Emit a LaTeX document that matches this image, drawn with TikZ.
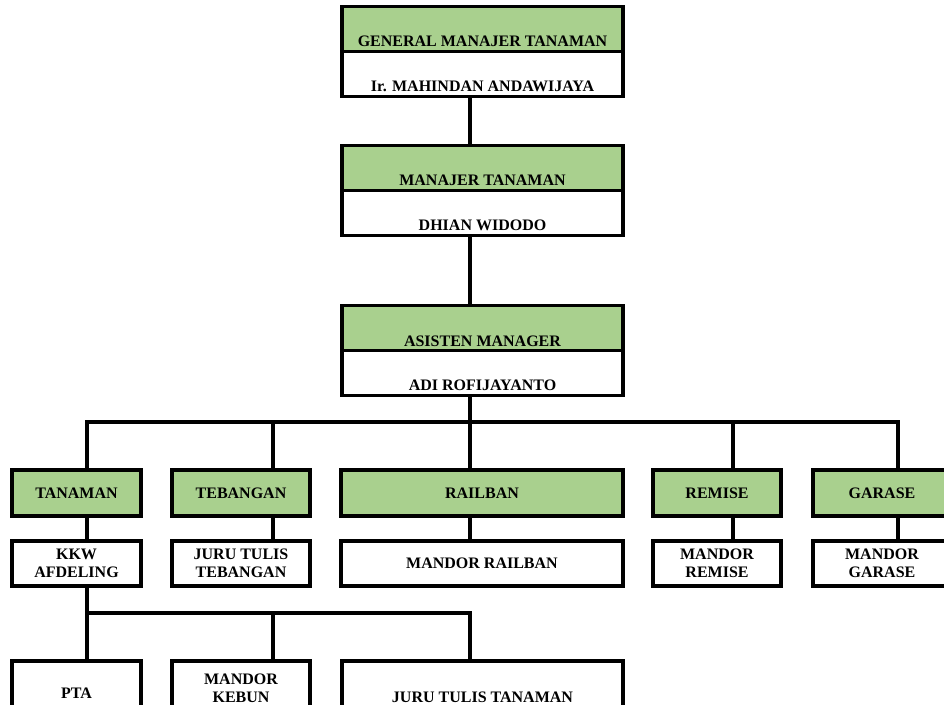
\documentclass[tikz,border=0pt]{standalone}
\usepackage{fontspec}
\setmainfont{Liberation Serif}
\usepackage{tikz}

\definecolor{daun}{RGB}{169,208,142}

\begin{document}
\begin{tikzpicture}[x = 0.75pt, y = -0.75pt, line width = 2.3pt,
                        font = \fontsize{12}{13.5}\selectfont\bfseries,
                        filled/.style = {rectangle, draw, fill = daun, minimum height = 34.5pt, inner sep = 0pt},
                        blank/.style = {rectangle, draw, fill = white, minimum height = 33.75pt, inner sep = 0pt},
                        head/.style = {filled, text height = 30pt, text depth = 3.75pt},
                        holder/.style = {blank, text height = 29.6pt, text depth = 3.4pt}]
      \clip (0, 0) rectangle (944, 705);
      % drop lines and bus levels
      \coordinate (c1) at (87, 0);
      \coordinate (c2) at (273, 0);
      \coordinate (c3) at (470, 0);
      \coordinate (c4) at (733, 0);
      \coordinate (c5) at (898, 0);
      \coordinate (bus) at (0, 422);
      \coordinate (sub) at (0, 613);
      % top three
      \node [head, minimum width = 210.75pt] (h1) at (482.5, 29.5){GENERAL MANAJER TANAMAN};
      \node [holder, minimum width = 210.75pt] (n1) at (482.5, 74){Ir. MAHINDAN ANDAWIJAYA};
      \node [head, minimum width = 210.75pt] (h2) at (482.5, 168.5){MANAJER TANAMAN};
      \node [holder, minimum width = 210.75pt] (n2) at (482.5, 213){DHIAN WIDODO};
      \node [head, minimum width = 210.75pt] (h3) at (482.5, 328.5){ASISTEN MANAGER};
      \node [holder, minimum width = 210.75pt] (n3) at (482.5, 373){ADI ROFIJAYANTO};
      % sections
      \node [filled, minimum width = 96.75pt] (d1) at (76.5, 493){TANAMAN};
      \node [filled, minimum width = 103.5pt] (d2) at (241, 493){TEBANGAN};
      \node [filled, minimum width = 211.5pt] (d3) at (482, 493){RAILBAN};
      \node [filled, minimum width = 96pt] (d4) at (717, 493){REMISE};
      \node [filled, minimum width = 103.5pt] (d5) at (882, 493){GARASE};
      \node [blank, align = center, minimum width = 96.75pt] (s1) at (76.5, 563.5){KKW\\AFDELING};
      \node [blank, align = center, minimum width = 103.5pt] (s2) at (241, 563.5){JURU TULIS\\TEBANGAN};
      \node [blank, minimum width = 211.5pt] (s3) at (482, 563.5){MANDOR RAILBAN};
      \node [blank, align = center, minimum width = 96pt] (s4) at (717, 563.5){MANDOR\\REMISE};
      \node [blank, align = center, minimum width = 103.5pt] (s5) at (882, 563.5){MANDOR\\GARASE};
      % under afdeling
      \node [blank, minimum width = 96.75pt, minimum height = 48pt] (u1) at (76.5, 693){PTA};
      \node [blank, align = center, minimum width = 103.5pt, minimum height = 40.5pt] (u2) at (241, 688){MANDOR\\KEBUN};
      \node [blank, minimum width = 210.75pt, minimum height = 54pt] (u3) at (482.5, 697){JURU TULIS TANAMAN};
      \draw (n1.south -| c3) -- (h2.north -| c3);
      \draw (n2.south -| c3) -- (h3.north -| c3);
      \draw (n3.south -| c3) -- (bus -| c3);
      \draw (d1.north -| c1) |- (bus -| c5) -- (d5.north -| c5);
      \foreach \i in {2, 3, 4}
        \draw (bus -| c\i) -- (d\i.north -| c\i);
      \foreach \i in {1, ..., 5}
        \draw (d\i.south -| c\i) -- (s\i.north -| c\i);
      \draw (s1.south -| c1) -- (u1.north -| c1);
      \draw (sub -| c1) -| (u3.north -| c3);
      \draw (sub -| c2) -- (u2.north -| c2);
    \end{tikzpicture}
\end{document}
